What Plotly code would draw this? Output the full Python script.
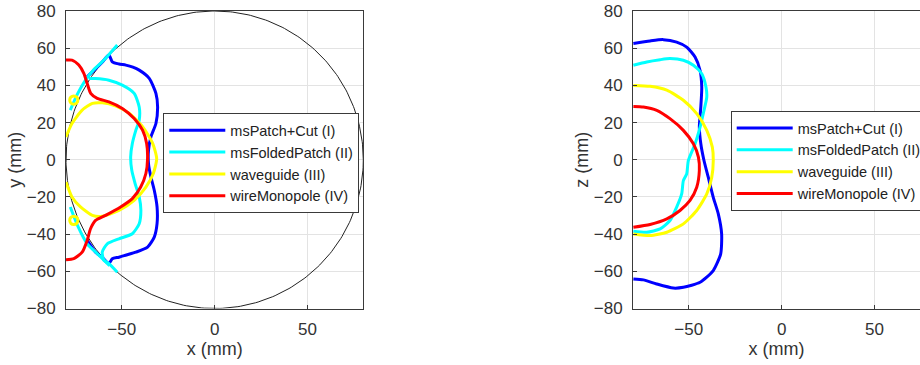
import numpy as np
import plotly.graph_objects as go

# ---- Series names and colours ----
names = ["msPatch+Cut (I)", "msFoldedPatch (II)", "waveguide (III)", "wireMonopole (IV)"]
colors = ["#0000FF", "#00FFFF", "#FFFF00", "#FF0000"]

# ---- x-y cut (left panel), coordinates in mm ----
patch_xy_x = [-68.6, -64.0, -60.5, -56.9, -55.1, -51.5, -47.8, -44.0, -40.6, -35.2, -31.6, -30.7, -31.6,
              -34.3, -35.6, -35.6, -34.3, -32.5, -31.0, -31.0, -32.5, -36.1, -42.4, -47.5, -51.5,
              -55.1, -56.9, -60.5, -64.1, -68.6]
patch_xy_y = [44.6, 49.0, 52.5, 56.3, 52.7, 51.5, 50.9, 49.8, 48.2, 43.8, 35.7, 28.4, 19.5,
              12.3, 5.1, -2.1, -9.3, -16.4, -25.4, -34.4, -41.6, -47.0, -49.7, -51.2, -52.4,
              -53.2, -55.9, -52.5, -49.7, -43.4]

folded_xy_x = [-77.7, -74.0, -69.5, -65.0, -60.5, -56.5, -52.4, None,
               -67.7, -64.1, -56.9, -49.7, -43.3, -40.6, -40.6, -42.4, -44.3, -45.2, -44.6, -42.8,
               -40.6, -39.7, -40.6, -44.3, -51.5, -57.8, -60.5, -59.6, -56.9, -52.4, None,
               -77.7, -73.5, -68.6, -65.0, -60.5, -56.5]
folded_xy_y = [26.7, 35.0, 42.8, 48.5, 52.7, 57.0, 61.7, None,
               43.7, 43.7, 42.8, 40.1, 35.7, 28.4, 21.3, 15.9, 8.7, 1.5, -5.7, -12.8,
               -20.0, -27.2, -34.4, -39.8, -42.5, -45.2, -49.7, -54.1, -55.9, -60.5, None,
               -25.4, -36.0, -45.2, -48.8, -53.0, -57.0]

guide_xy_x = [-80.0, -76.8, -71.3, -65.8, -60.4, -53.1, -45.9, -38.7, -33.3, -31.2, -33.0, -37.0,
              -43.3, -51.5, -60.5, -65.8, -72.2, -76.8, -80.0, None,
              -75.8, -74.2, -73.6, -74.2, -75.8, -77.4, -78.0, -77.4, -75.8, None,
              -75.8, -74.2, -73.6, -74.2, -75.8, -77.4, -78.0, -77.4, -75.8]
guide_xy_y = [12.3, 19.5, 26.7, 30.3, 30.6, 28.8, 24.9, 17.7, 8.7, 0.6, -7.4, -14.7,
              -21.8, -27.2, -30.4, -29.9, -25.4, -20.0, -12.0, None,
              34.3, 33.7, 32.1, 30.5, 29.9, 30.5, 32.1, 33.7, 34.3, None,
              -30.4, -31.0, -32.6, -34.2, -34.8, -34.2, -32.6, -31.0, -30.4]

wire_xy_x = [-80.0, -76.8, -73.1, -70.4, -68.6, -66.7, -63.2, -56.9, -49.7, -43.3, -38.8, -36.6,
             -36.1, -37.0, -39.8, -44.3, -50.6, -58.7, -64.1, -66.8, -68.6, -71.3, -75.8, -80.0]
wire_xy_y = [53.6, 53.6, 50.9, 46.4, 41.0, 35.7, 33.0, 31.1, 27.6, 22.2, 15.9, 8.7,
             0.6, -7.4, -14.7, -20.9, -25.4, -29.9, -32.6, -37.1, -43.4, -49.7, -53.2, -53.8]

# ---- x-z cut (right panel), coordinates in mm ----
patch_xz_x = [-79.8, -70.8, -63.7, -56.5, -51.1, -46.6, -43.9, -43.0, -43.5, -44.3, -43.5, -41.8,
              -39.5, -36.8, -34.1, -32.3, -32.8, -36.8, -43.9, -52.9, -58.3, -67.3, -74.4, -79.8]
patch_xz_z = [62.5, 63.9, 64.6, 63.3, 60.6, 55.2, 48.0, 39.0, 28.4, 17.6, 8.6, -0.4,
              -9.4, -20.2, -29.1, -39.9, -50.6, -59.6, -65.9, -68.6, -69.0, -66.8, -64.6, -64.1]

folded_xz_x = [-79.8, -72.6, -65.4, -60.1, -52.9, -47.5, -43.0, -40.7, -40.3, -41.8, -43.9, -46.6,
               -50.2, -51.1, -52.9, -53.8, -56.5, -60.1, -65.4, -72.6, -79.8]
folded_xz_z = [50.8, 52.6, 53.8, 54.4, 53.5, 50.8, 46.3, 39.0, 33.7, 26.5, 17.6, 8.6,
               -0.4, -7.6, -11.2, -18.4, -25.5, -32.7, -37.2, -39.0, -38.5]

guide_xz_x = [-79.8, -70.8, -61.8, -52.9, -45.7, -40.3, -37.3, -36.8, -37.6, -40.3, -45.7, -52.9,
              -61.8, -70.8, -79.8]
guide_xz_z = [40.0, 39.5, 37.4, 32.0, 24.8, 15.8, 6.8, -0.4, -9.4, -18.4, -27.3, -34.5,
              -39.0, -40.8, -39.9]

wire_xz_x = [-79.8, -74.4, -67.2, -60.1, -52.9, -47.5, -44.8, -44.3, -45.7, -49.3, -54.7, -61.8,
             -70.8, -79.8]
wire_xz_z = [28.7, 28.4, 26.6, 22.1, 15.8, 8.6, 1.4, -5.8, -14.8, -21.9, -27.3, -31.8,
             -34.8, -36.3]

# ---- Axes ----
axis_range = [-80, 80]
x_ticks = [-50, 0, 50]
y_ticks = [-80, -60, -40, -20, 0, 20, 40, 60, 80]
sphere_radius = 80

W, H = 920, 365
FONT = "Liberation Sans, Arial, sans-serif"
AXIS_GRAY = "#3a3a3a"
GRID_GRAY = "#e3e3e3"

fig = go.Figure()

# reference sphere outline on the x-y cut
theta = np.linspace(0, 2 * np.pi, 361)
fig.add_trace(go.Scatter(x=sphere_radius * np.cos(theta), y=sphere_radius * np.sin(theta),
                         mode="lines", line=dict(color="#222222", width=1),
                         showlegend=False, hoverinfo="skip", xaxis="x", yaxis="y"))

left_sets = [(patch_xy_x, patch_xy_y), (folded_xy_x, folded_xy_y),
             (guide_xy_x, guide_xy_y), (wire_xy_x, wire_xy_y)]
right_sets = [(patch_xz_x, patch_xz_z), (folded_xz_x, folded_xz_z),
              (guide_xz_x, guide_xz_z), (wire_xz_x, wire_xz_z)]

for (xs, ys), name, c in zip(left_sets, names, colors):
    fig.add_trace(go.Scatter(x=xs, y=ys, mode="lines", name=name,
                             line=dict(color=c, width=3, shape="spline", smoothing=0.6),
                             connectgaps=False, xaxis="x", yaxis="y", legend="legend"))
for (xs, ys), name, c in zip(right_sets, names, colors):
    fig.add_trace(go.Scatter(x=xs, y=ys, mode="lines", name=name,
                             line=dict(color=c, width=3, shape="spline", smoothing=0.6),
                             xaxis="x2", yaxis="y2", legend="legend2"))

# right panel frame runs past the page edge, so its x range is cut at the edge
px_per_mm = (363.3 - 66) / (axis_range[1] - axis_range[0])
x2_left_px = 633
x2_max = axis_range[0] + (W - x2_left_px) / px_per_mm

y_dom = [1 - 308.5 / H, 1 - 11 / H]
common_ax = dict(showgrid=True, gridcolor=GRID_GRAY, gridwidth=1, zeroline=False,
                 showline=True, linecolor=AXIS_GRAY, linewidth=1,
                 ticks="inside", ticklen=4, tickcolor=AXIS_GRAY,
                 tickfont=dict(family=FONT, size=17, color="#333333"),
                 title_font=dict(family=FONT, size=18, color="#333333"))

legend_style = dict(xanchor="left", yanchor="top",
                    bgcolor="white", bordercolor=AXIS_GRAY, borderwidth=1,
                    font=dict(family=FONT, size=14.5, color="#222222"), itemwidth=56,
                    tracegroupgap=0)

fig.update_layout(
    width=W, height=H,
    margin=dict(l=0, r=0, t=0, b=0, autoexpand=False),
    paper_bgcolor="white", plot_bgcolor="white",
    font=dict(family=FONT),
    xaxis=dict(domain=[66 / W, 363.3 / W], range=axis_range, tickvals=x_ticks, mirror=True,
               title=dict(text="x (mm)", standoff=3), ticklabelstandoff=5, **common_ax),
    yaxis=dict(domain=y_dom, range=axis_range, tickvals=y_ticks, mirror=True,
               title=dict(text="y (mm)", standoff=0), ticklabelstandoff=6, **common_ax),
    xaxis2=dict(domain=[x2_left_px / W, 1.0], range=[axis_range[0], x2_max], tickvals=x_ticks,
                mirror=True, anchor="y2",
                title=dict(text="x (mm)", standoff=3), ticklabelstandoff=5, **common_ax),
    yaxis2=dict(domain=y_dom, range=axis_range, tickvals=y_ticks, mirror=False, anchor="x2",
                title=dict(text="z (mm)", standoff=0), ticklabelstandoff=6, **common_ax),
    legend=dict(x=163.3 / W, y=1 - 113.3 / H, **legend_style),
    legend2=dict(x=730.7 / W, y=1 - 111 / H, **legend_style),
)

fig.write_html("out.html")
